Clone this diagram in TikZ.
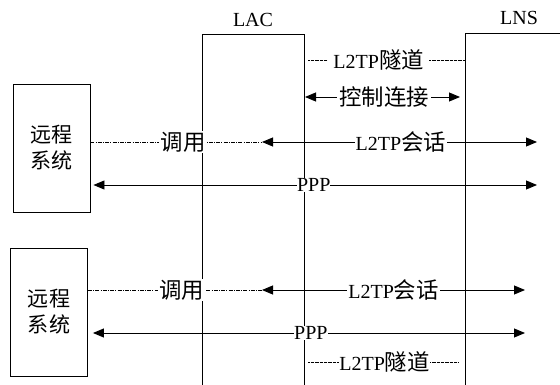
\documentclass[tikz,border=0pt]{standalone}
\usepackage{fontspec}
\setmainfont{Liberation Serif}
\newfontfamily\cjk[Scale=1.12]{Noto Sans CJK SC}
\usetikzlibrary{arrows.meta}
\begin{document}
\begin{tikzpicture}[x=1pt,y=-1pt,
  ln/.style={line width=0.9pt,black},
  arr/.style={ln,{Triangle[length=11pt,width=9pt]}-{Triangle[length=11pt,width=9pt]}},
  calldash/.style={ln,line width=0.7pt,dash pattern=on 4pt off 1.2pt on 1pt off 1.2pt},
  tundot/.style={ln,line width=0.6pt,dash pattern=on 0.8pt off 0.5pt},
  lbl/.style={fill=white,inner sep=1pt,font=\fontsize{20}{24}\selectfont},
  sysbox/.style={draw,line width=0.9pt,minimum width=77pt,minimum height=128pt,
    align=center,inner sep=0pt,font=\cjk\fontsize{18.8}{26}\selectfont},
  title/.style={inner sep=0pt,font=\fontsize{20}{24}\selectfont}
]
\useasboundingbox (0,0) rectangle (560,385);
% lifelines
\coordinate (lacBL) at (202,385);
\coordinate (lacTL) at (202,34);
\coordinate (lacTR) at (304,34);
\coordinate (lacBR) at (304,385);
\coordinate (lnsBL) at (465,385);
\coordinate (lnsTL) at (465,33);
\coordinate (lnsTR) at (560,33);
\draw[ln] (lacBL) -- (lacTL) -- (lacTR) -- (lacBR);
\draw[ln] (lnsBL) -- (lnsTL) -- (lnsTR);
\node[title] (lac) at (253,20) {LAC};
\node[title] (lns) at (519,18) {LNS};
% remote systems
\node[sysbox] (rs1) at (51.5,148) {远程\\系统};
\node[sysbox] (rs2) at (49,312) {远程\\系统};
% anchor coordinates
\coordinate (t1a) at (308,60);
\coordinate (t1b) at (465,60);
\coordinate (k1a) at (305,97);
\coordinate (k1b) at (460,97);
\coordinate (c1) at (262,142);
\coordinate (e1) at (537,142);
\coordinate (p1) at (537,185);
\coordinate (c2) at (262,290);
\coordinate (e2) at (525,290);
\coordinate (p2) at (525,333);
\coordinate (t2a) at (308,362);
\coordinate (t2b) at (458,362);
% tunnel (top)
\draw[tundot] (t1a) -- node[lbl,pos=0.45,inner xsep=5pt] (tun1) {L2TP{\cjk 隧道}} (t1b);
% control connection
\draw[arr] (k1a) -- node[lbl,pos=0.51,inner xsep=2pt] (ctl) {\cjk 控制连接} (k1b);
% first session
\draw[calldash] (c1 -| rs1.east) -- node[lbl,pos=0.54,inner xsep=2pt] (call1) {\cjk 调用} (c1);
\draw[arr] (c1) -- node[lbl,pos=0.505] (ses1) {L2TP{\cjk 会话}} (e1);
\draw[arr,shorten <=3pt] (p1 -| rs1.east) -- node[lbl,pos=0.5,inner sep=0pt] (ppp1) {PPP} (p1);
% second session
\draw[calldash] (c2 -| rs2.east) -- node[lbl,pos=0.54,inner xsep=2pt] (call2) {\cjk 调用} (c2);
\draw[arr] (c2) -- node[lbl,pos=0.5] (ses2) {L2TP{\cjk 会话}} (e2);
\draw[arr,shorten <=5pt] (p2 -| rs2.east) -- node[lbl,pos=0.51,inner sep=0pt] (ppp2) {PPP} (p2);
% tunnel (bottom)
\draw[tundot] (t2a) -- node[lbl,pos=0.51,inner xsep=0pt] (tun2) {L2TP{\cjk 隧道}} (t2b);
\end{tikzpicture}
\end{document}
